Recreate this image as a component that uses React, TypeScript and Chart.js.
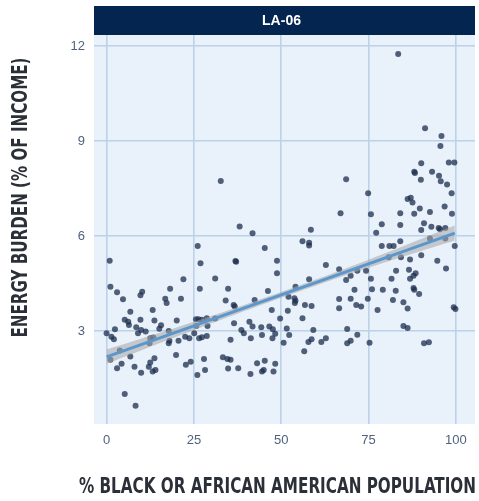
import React, { useEffect, useRef } from "react";
import { Chart, registerables } from "chart.js";
Chart.register(...registerables);

const PANEL_TITLE = "LA-06";
const X_TITLE = "% BLACK OR AFRICAN AMERICAN POPULATION";
const Y_TITLE = "ENERGY BURDEN (% OF INCOME)";
const X_TICKS = [0, 25, 50, 75, 100];
const Y_TICKS = [3, 6, 9, 12];

const blackPct = [
  32.7, 38.1,
  83.5, 91.2, 95.9, 95.6, 90.1, 98.0, 99.6, 88.1, 88.3, 93.2, 95.2, 90.0, 95.7, 97.5, 68.6, 74.9, 98.8, 86.2, 87.1, 87.6,
  67.0, 75.7, 84.1, 88.1, 89.7, 92.6, 96.8, 98.9, 78.8, 84.1, 90.9, 58.5,
  90.1, 93.0, 95.1, 95.5, 97.0, 77.2, 56.1, 58.0, 58.0, 78.8, 81.0, 82.2, 84.1, 92.6, 97.0, 99.7, 90.1, 80.8, 84.3, 86.9,
  94.7, 62.8, 97.2, 66.6, 71.8, 74.3, 82.9, 86.6, 88.5, 87.9, 86.9, 58.0, 68.6, 69.9, 75.7, 81.6, 54.1, 71.0, 76.0, 79.1,
  82.8, 87.9, 88.1, 89.5, 52.1, 53.8, 54.1, 53.9, 66.6, 69.9, 74.8, 82.0, 85.0, 56.8, 58.7, 71.5, 72.9, 66.6, 77.6, 86.2,
  99.4, 99.9, 51.9, 49.7, 56.1, 85.0, 86.2, 51.6, 59.2, 68.9, 52.3, 71.8, 58.7, 57.8, 61.5, 62.8, 68.9, 69.9, 50.7, 75.3,
  90.9, 92.3, 56.6,
  41.8, 26.1, 45.3, 0.9, 26.9, 36.9, 37.1, 48.8, 22.0, 31.1, 48.8, 1.1, 3.0, 10.2, 9.7, 18.2, 26.7, 34.8, 46.2, 4.7,
  16.8, 17.2, 21.3, 34.1, 36.4, 36.7, 42.4, 47.3, 6.8, 13.2, 5.2, 6.2, 6.4, 2.4, 9.7, 13.7, 15.6, 15.1, 20.1, 8.5,
  9.0, 9.9, 11.2, 17.8, 25.6, 26.3, 27.3, 28.7, 31.1, 25.7, 28.9, 23.7, 26.5, 27.3, 28.7, 25.1, 22.5, 0.0, 1.4, 2.1,
  12.5, 13.4, 18.0, 20.6, 36.5, 38.6, 39.3, 40.9, 41.8, 44.3, 46.6, 47.6, 48.3, 47.5, 41.3, 44.5, 35.5, 3.8, 12.3, 17.8,
  19.9, 6.8, 1.1, 4.3, 3.0, 8.0, 9.9, 12.5, 12.1, 13.2, 14.0, 13.7, 22.7, 24.1, 27.9, 28.2, 26.0, 33.3, 34.6, 35.5,
  34.8, 37.7, 41.2, 43.1, 44.5, 45.0, 45.3, 47.8, 48.3, 5.2, 8.3,
];
const energyBurden = [
  7.74, 6.30,
  11.75, 9.40, 9.16, 8.84, 8.30, 8.32, 8.32, 8.03, 7.99, 8.03, 7.90, 7.78, 7.73, 7.63, 7.79, 7.35, 7.35, 7.17, 7.21, 7.06,
  6.72, 6.69, 6.72, 6.70, 6.87, 6.76, 6.93, 6.70, 6.37, 6.35, 6.40, 6.20,
  6.19, 6.29, 6.25, 6.21, 6.25, 6.10, 5.83, 5.79, 5.70, 5.68, 5.68, 5.68, 5.83, 5.92, 5.92, 5.68, 5.39, 5.33, 5.33, 5.26,
  5.22, 5.08, 4.97, 4.95, 4.90, 4.90, 4.90, 4.93, 4.82, 4.74, 4.65, 4.63, 4.61, 4.74, 4.65, 4.65, 4.40, 4.30, 4.32, 4.30,
  4.27, 4.36, 4.30, 4.17, 4.08, 4.03, 3.95, 3.88, 4.01, 4.02, 4.02, 3.98, 3.91, 3.82, 3.79, 3.82, 3.77, 3.72, 3.66, 3.71,
  3.75, 3.69, 3.64, 3.39, 3.40, 3.16, 3.09, 3.08, 3.03, 3.06, 2.87, 2.88, 2.74, 2.65, 2.65, 2.77, 2.61, 2.69, 2.63, 2.63,
  2.61, 2.64, 2.36,
  6.09, 5.68, 5.62, 5.22, 5.14, 5.21, 5.19, 5.22, 4.63, 4.66, 4.82, 4.40, 4.22, 4.24, 4.13, 4.33, 4.33, 4.33, 4.26, 4.00,
  4.02, 3.88, 4.02, 3.96, 3.82, 3.77, 3.98, 3.66, 3.61, 3.66, 3.35, 3.29, 3.19, 3.05, 3.35, 3.33, 3.18, 3.07, 3.33, 3.12,
  2.93, 3.03, 2.98, 3.00, 3.37, 3.37, 3.35, 3.40, 3.39, 3.16, 3.16, 2.77, 2.77, 2.80, 2.84, 2.93, 2.82, 2.93, 2.82, 2.74,
  2.77, 2.79, 2.69, 2.69, 3.24, 3.03, 2.93, 3.29, 3.14, 3.12, 3.14, 3.05, 2.91, 2.77, 2.77, 2.87, 2.72, 2.38, 2.61, 2.61,
  2.24, 2.19, 2.09, 1.96, 1.82, 1.87, 1.68, 2.00, 1.87, 1.72, 1.77, 2.14, 1.93, 2.03, 2.11, 1.77, 1.61, 2.17, 2.11, 2.09,
  1.81, 1.82, 1.64, 1.98, 1.72, 1.77, 2.06, 1.72, 1.96, 1.01, 0.64,
];

const fitX = [0, 25, 50, 75, 99.7];
const fitY = [2.18, 3.16, 4.14, 5.12, 6.09];
const fitLower = [1.96, 3.03, 4.05, 5.00, 5.86];
const fitUpper = [2.41, 3.29, 4.23, 5.25, 6.33];

function fitText(ctx: CanvasRenderingContext2D, text: string, x: number, y: number, width: number) {
  const w = ctx.measureText(text).width;
  const sx = w > 0 ? width / w : 1;
  ctx.save();
  ctx.translate(x, y);
  ctx.scale(sx, 1);
  ctx.fillText(text, 0, 0);
  ctx.restore();
}

const decor = {
  id: "decor",
  beforeDraw(chart: any) {
    const { ctx, chartArea: a } = chart;
    ctx.save();
    ctx.fillStyle = "#e9f1fa";
    ctx.fillRect(a.left, a.top, a.right - a.left, a.bottom - a.top);
    ctx.fillStyle = "#04254f";
    ctx.fillRect(a.left, a.top - 29, a.right - a.left, 29);
    ctx.fillStyle = "#ffffff";
    ctx.font = 'bold 14px "Liberation Sans", Arial, sans-serif';
    ctx.textAlign = "center";
    ctx.textBaseline = "middle";
    ctx.fillText(PANEL_TITLE, (a.left + a.right) / 2 - 3, a.top - 14);
    ctx.fillStyle = "#2b2f37";
    ctx.font = 'bold 21px "DejaVu Sans Condensed", "Liberation Sans", sans-serif';
    fitText(ctx, X_TITLE, 277.5, 488, 397);
    ctx.translate(22, 197.5);
    ctx.rotate(-Math.PI / 2);
    fitText(ctx, Y_TITLE, 0, 0, 280);
    ctx.restore();
  },
};

export default function App() {
  const ref = useRef<HTMLCanvasElement | null>(null);
  useEffect(() => {
    document.body.style.margin = "0";
    const points = blackPct.map((x, i) => ({ x, y: energyBurden[i] }));
    const line = fitX.map((x, i) => ({ x, y: fitY[i] }));
    const up = fitX.map((x, i) => ({ x, y: fitUpper[i] }));
    const lo = fitX.map((x, i) => ({ x, y: fitLower[i] }));
    const gridColor = "#bcd2e9";
    const tickFont = { family: '"Liberation Sans", Arial, sans-serif', size: 13 };
    const chart = new Chart(ref.current as HTMLCanvasElement, {
      type: "scatter",
      data: {
        datasets: [
          {
            data: line,
            showLine: true,
            borderColor: "#5b97cc",
            borderWidth: 3,
            pointRadius: 0,
            fill: false,
            order: 0,
          } as any,
          {
            data: up,
            showLine: true,
            borderWidth: 0,
            borderColor: "rgba(0,0,0,0)",
            pointRadius: 0,
            fill: false,
            order: 1,
            tension: 0.4,
          } as any,
          {
            data: lo,
            showLine: true,
            borderWidth: 0,
            borderColor: "rgba(0,0,0,0)",
            backgroundColor: "rgba(165,165,165,0.55)",
            pointRadius: 0,
            fill: 1,
            order: 1,
            tension: 0.4,
          } as any,
          {
            data: points,
            backgroundColor: "rgba(28,45,78,0.75)",
            borderWidth: 0,
            pointRadius: 3,
            order: 2,
          } as any,
        ],
      },
      options: {
        animation: false,
        responsive: true,
        maintainAspectRatio: false,
        layout: { padding: { top: 35, right: 0, left: 0, bottom: 0 } },
        plugins: { legend: { display: false }, tooltip: { enabled: false } },
        scales: {
          x: {
            type: "linear",
            min: -3.6,
            max: 105.5,
            afterBuildTicks: (s: any) => {
              s.ticks = X_TICKS.map((v) => ({ value: v }));
            },
            afterFit: (s: any) => {
              s.height = 77;
            },
            grid: { color: gridColor, lineWidth: 1.6, drawTicks: false },
            border: { display: false },
            ticks: { color: "#50627c", font: tickFont, padding: 9, maxRotation: 0 },
          },
          y: {
            type: "linear",
            min: 0.06,
            max: 12.35,
            afterBuildTicks: (s: any) => {
              s.ticks = Y_TICKS.map((v) => ({ value: v }));
            },
            afterFit: (s: any) => {
              s.width = 94;
            },
            grid: { color: gridColor, lineWidth: 1.6, drawTicks: false },
            border: { display: false },
            ticks: { color: "#50627c", font: tickFont, padding: 9 },
          },
        },
      },
      plugins: [decor],
    } as any);
    return () => chart.destroy();
  }, []);
  return (
    <div style={{ position: "relative", width: 479, height: 501 }}>
      <canvas ref={ref} />
    </div>
  );
}
